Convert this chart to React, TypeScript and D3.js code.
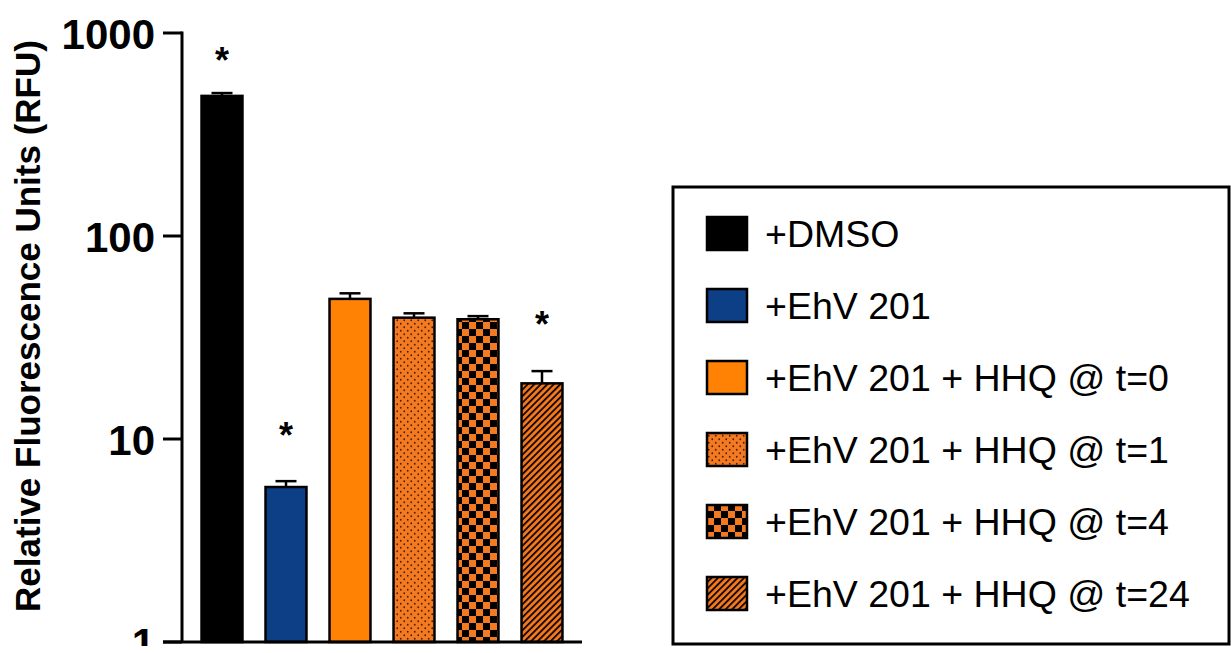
import React from "react";
import * as d3 from "d3";

const categories = [
  "+DMSO",
  "+EhV 201",
  "+EhV 201 + HHQ @ t=0",
  "+EhV 201 + HHQ @ t=1",
  "+EhV 201 + HHQ @ t=4",
  "+EhV 201 + HHQ @ t=24",
];
const means = [490, 5.8, 49, 39.6, 38.9, 18.8];
const sem = [16, 0.4, 3.2, 2.0, 1.4, 2.8];
const significant = [true, true, false, false, false, true];
const starLevel = [800, 11.3, 0, 0, 0, 40];
const yTicks = [1, 10, 100, 1000];
const fills = [
  "#000000",
  "#0d3f86",
  "#ff8205",
  "url(#dots)",
  "url(#checker)",
  "url(#stripes)",
];

const FONT = "'Liberation Sans', Arial, Helvetica, sans-serif";

export default function App() {
  const W = 1231;
  const H = 646;
  const y = d3.scaleLog().domain([1, 1000]).range([642, 33]);
  const x = d3
    .scaleBand<string>()
    .domain(categories)
    .range([182, 582])
    .paddingInner(0.36)
    .paddingOuter(0.305);
  const bw = x.bandwidth();
  const axisX = 182;
  const axisY = 642;

  const legendX = 673;
  const legendY = 187;
  const rowStep = 72;

  return (
    <svg
      width={W}
      height={H}
      style={{ position: "fixed", left: 0, top: 0, background: "#fff" }}
      fontFamily={FONT}
    >
      <defs>
        <pattern id="dots" patternUnits="userSpaceOnUse" width="7" height="7">
          <rect width="7" height="7" fill="#f47a22" />
          <circle cx="1.75" cy="1.75" r="0.9" fill="#4a1f05" />
          <circle cx="5.25" cy="5.25" r="0.9" fill="#4a1f05" />
        </pattern>
        <pattern id="checker" patternUnits="userSpaceOnUse" width="14" height="14">
          <rect width="14" height="14" fill="#f47a22" />
          <rect x="0" y="0" width="7" height="7" fill="#000" />
          <rect x="7" y="7" width="7" height="7" fill="#000" />
        </pattern>
        <pattern
          id="stripes"
          patternUnits="userSpaceOnUse"
          width="4.6"
          height="4.6"
          patternTransform="rotate(45)"
        >
          <rect width="4.6" height="4.6" fill="#f47a22" />
          <rect x="0" y="0" width="1.9" height="4.6" fill="#1a0a00" />
        </pattern>
      </defs>
      <rect x={0} y={0} width={W} height={H} fill="#fff" />

      {/* bars */}
      {categories.map((c, i) => {
        const x0 = x(c)!;
        const top = y(means[i]);
        const cap = y(means[i] + sem[i]);
        const cx = x0 + bw / 2;
        return (
          <g key={c}>
            <line x1={cx} x2={cx} y1={top} y2={cap} stroke="#000" strokeWidth={2.5} />
            <line x1={cx - 10.5} x2={cx + 10.5} y1={cap} y2={cap} stroke="#000" strokeWidth={2.5} />
            <rect
              x={x0}
              y={top}
              width={bw}
              height={axisY - top}
              fill={fills[i]}
              stroke="#000"
              strokeWidth={2.5}
            />
            {significant[i] && (
              <text
                x={cx}
                y={y(starLevel[i]) + 20}
                textAnchor="middle"
                fontSize={36}
                fontWeight="bold"
              >
                *
              </text>
            )}
          </g>
        );
      })}

      {/* axes */}
      <line x1={axisX} x2={axisX} y1={y(1000) - 1.5} y2={axisY} stroke="#000" strokeWidth={3} />
      <line x1={163} x2={582} y1={axisY} y2={axisY} stroke="#000" strokeWidth={3} />
      {yTicks.map((t) => (
        <g key={t}>
          <line x1={163} x2={axisX} y1={y(t)} y2={y(t)} stroke="#000" strokeWidth={3} />
          <text
            x={155}
            y={y(t) + 16}
            textAnchor="end"
            fontSize={42}
            fontWeight="bold"
          >
            {t}
          </text>
        </g>
      ))}
      <text
        transform="translate(40,326) rotate(-90)"
        textAnchor="middle"
        fontSize={35}
        fontWeight="bold"
      >
        Relative Fluorescence Units (RFU)
      </text>

      {/* legend */}
      <rect
        x={legendX}
        y={legendY}
        width={1229 - legendX}
        height={644 - legendY}
        fill="none"
        stroke="#000"
        strokeWidth={3}
      />
      {categories.map((c, i) => {
        const sy = 217 + i * rowStep;
        return (
          <g key={"lg" + c}>
            <rect
              x={707}
              y={sy}
              width={40}
              height={33}
              fill={fills[i]}
              stroke="#000"
              strokeWidth={2.5}
            />
            <text x={765} y={sy + 30} fontSize={37.5}>
              {c}
            </text>
          </g>
        );
      })}
    </svg>
  );
}
